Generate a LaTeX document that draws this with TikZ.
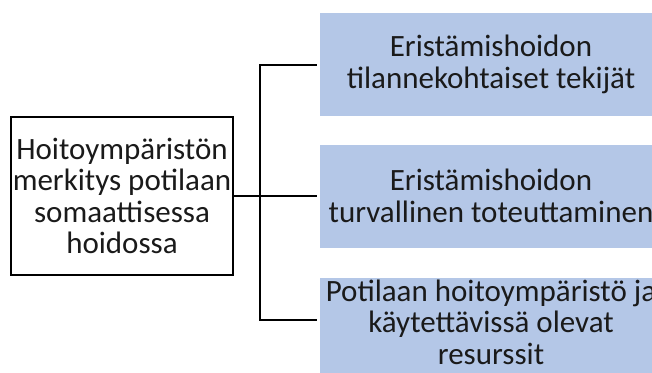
\documentclass[tikz,border=0pt]{standalone}
\usepackage{fontspec}
\setmainfont{Carlito}
\usetikzlibrary{calc}
\definecolor{boxblue}{HTML}{B4C7E7}
\definecolor{txt}{HTML}{1A1A1A}
\begin{document}
\begin{tikzpicture}[x=1pt,y=-1pt,
  lbl/.style={font=\fontsize{31}{31.5}\selectfont, text=txt, align=center, inner sep=0pt},
  bluebox/.style={lbl, fill=boxblue, minimum width=342pt, minimum height=103pt},
  mainbox/.style={lbl, draw=black, line width=2.5pt, minimum width=222pt, minimum height=158pt},
  conn/.style={draw=black, line width=2.5pt, shorten >=3pt}]
\useasboundingbox (0,0) rectangle (652,372);
\clip (0,0) rectangle (652,372);
\node[mainbox] (main) at (122,196) {Hoitoympäristön\\merkitys potilaan\\somaattisessa\\hoidossa};
\node[bluebox] (b1) at (491,64.5) {Eristämishoidon\\tilannekohtaiset tekijät};
\node[bluebox] (b2) at (491,196) {Eristämishoidon\\turvallinen toteuttaminen};
\fill[boxblue] (320,300) rectangle (662,380);
\node[bluebox, minimum height=88pt] (b3) at (491,322) {Potilaan hoitoympäristö ja\\käytettävissä olevat\\resurssit};
\coordinate (bus) at (260,196);
\coordinate (c1) at (320,65);
\coordinate (c3) at (320,320);
\draw[conn] (main.east) -- (b2.west);
\draw[conn] (bus |- c1) -- (c1);
\draw[conn] (bus |- c3) -- (c3);
\draw[line width=2.5pt, line cap=rect] (bus |- c1) -- (bus |- c3);
\end{tikzpicture}
\end{document}
